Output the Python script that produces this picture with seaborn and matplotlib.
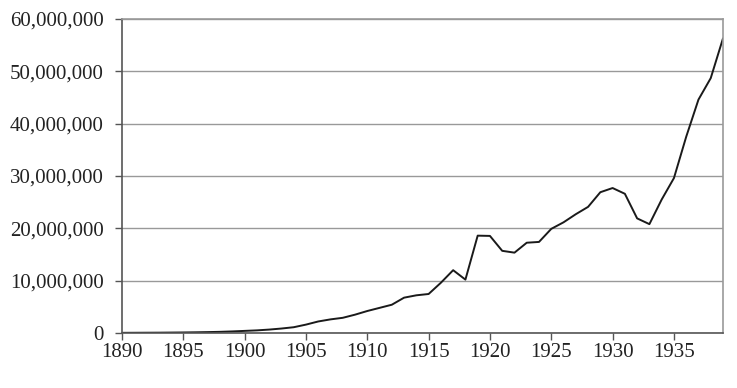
import matplotlib
matplotlib.use("Agg")
import matplotlib.pyplot as plt
import matplotlib.ticker as mticker
import seaborn as sns
import pandas as pd

years = list(range(1890, 1940))
values_m = [0.03, 0.04, 0.05, 0.06, 0.08, 0.10, 0.13, 0.17, 0.22, 0.30,
            0.40, 0.50, 0.65, 0.85, 1.10, 1.60, 2.20, 2.60, 2.90, 3.50,
            4.20, 4.80, 5.40, 6.75, 7.20, 7.45, 9.60, 12.0, 10.2, 18.6,
            18.55, 15.7, 15.35, 17.25, 17.4, 19.9, 21.15, 22.7, 24.1, 26.9,
            27.7, 26.6, 21.9, 20.8, 25.5, 29.6, 37.5, 44.6, 48.7, 56.3]
xticks = [1890, 1895, 1900, 1905, 1910, 1915, 1920, 1925, 1930, 1935]
yticks = [0, 10e6, 20e6, 30e6, 40e6, 50e6, 60e6]

df = pd.DataFrame({"year": years, "value": [v * 1e6 for v in values_m]})

sns.set_style("white")
plt.rcParams["font.family"] = ["Liberation Serif", "DejaVu Serif"]

fig = plt.figure(figsize=(7.37, 3.88), dpi=100)
ax = fig.add_axes([0.1655, 0.1418, 0.8155, 0.8092])
sns.lineplot(data=df, x="year", y="value", color="#1a1a1a", linewidth=1.4, ax=ax)

ax.set_xlim(1890, 1939)
ax.set_ylim(0, 60e6)
ax.set_xticks(xticks)
ax.set_yticks(yticks)
ax.yaxis.set_major_formatter(mticker.FuncFormatter(lambda v, p: f"{int(v):,}"))
ax.grid(axis="y", color="#999999", linewidth=1.0)
ax.set_axisbelow(True)
ax.set_xlabel("")
ax.set_ylabel("")
for side in ["top", "right"]:
    ax.spines[side].set_color("#999999")
    ax.spines[side].set_linewidth(1.2)
for side in ["left", "bottom"]:
    ax.spines[side].set_color("#555555")
    ax.spines[side].set_linewidth(1.2)
ax.tick_params(axis="both", labelsize=15, colors="#555555", labelcolor="#222222",
               length=5, width=1, direction="out", left=True, bottom=True)
ax.tick_params(axis="x", pad=2)
ax.tick_params(axis="y", pad=8)

fig.savefig("out.png", dpi=100)
